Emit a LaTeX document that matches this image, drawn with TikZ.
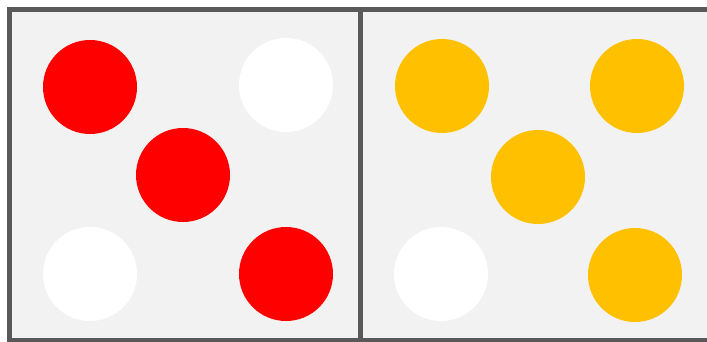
\documentclass[tikz,border=0pt]{standalone}
\usepackage{xcolor}
\definecolor{cFrame}{HTML}{595959}
\definecolor{cPanel}{HTML}{F2F2F2}
\definecolor{cRed}{HTML}{FF0000}
\definecolor{cGold}{HTML}{FFC000}
\usepackage{tikz}
\usetikzlibrary{positioning}
\tikzset{
  node-panel/.style={draw=cFrame,line width=5pt,fill=cPanel,
    minimum width=350.5pt,minimum height=330.5pt,inner sep=0pt},
  node-dot/.style={circle,minimum size=94pt,inner sep=0pt},
  node-red/.style={fill=cRed},
  node-off/.style={fill=white},
  node-gold/.style={fill=cGold},
}
\begin{document}
\begin{tikzpicture}[x=1pt,y=-1pt]
  \useasboundingbox (0,0) rectangle (707,342);
  \clip (0,0) rectangle (707,342);
  % two panels side by side
  \node[node-panel] (pleft)  at (184.75,175) {};
  \node[node-panel] (pright) at (535.25,175) {};
  % left panel
  \node[node-dot,node-red] (l-tl) at (90,87)   {};
  \node[node-dot,node-off] (l-tr) at (286,85)  {};
  \node[node-dot,node-red] (l-mid) at (183,175) {};
  \node[node-dot,node-off] (l-bl) at (90,274)  {};
  \node[node-dot,node-red] (l-br) at (286,274) {};
  % right panel
  \node[node-dot,node-gold] (r-tl) at (442,86)  {};
  \node[node-dot,node-gold] (r-tr) at (637,86)  {};
  \node[node-dot,node-gold] (r-mid) at (538,177) {};
  \node[node-dot,node-off]  (r-bl) at (441,274) {};
  \node[node-dot,node-gold] (r-br) at (635,275) {};
\end{tikzpicture}
\end{document}
